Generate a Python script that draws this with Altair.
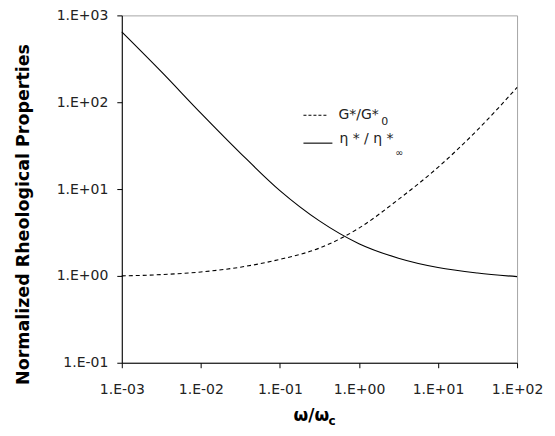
import altair as alt
import pandas as pd

# ---- data ----
w_vals = [0.001, 0.00316, 0.01, 0.0316, 0.1, 0.316, 1, 3.16, 10, 31.6, 100]
eta_ratio = [646, 225, 75, 26, 9.6, 4.3, 2.35, 1.6, 1.25, 1.08, 0.98]
g_ratio = [1.0, 1.035, 1.11, 1.26, 1.55, 2.09, 3.55, 7.6, 17.8, 48, 148]

x_ticks = [0.001, 0.01, 0.1, 1, 10, 100]
y_ticks = [0.1, 1, 10, 100, 1000]

df_eta = pd.DataFrame({"w": w_vals, "v": eta_ratio})
df_g = pd.DataFrame({"w": w_vals, "v": g_ratio})

label_expr = ("'1.E' + (round(log(datum.value)/LN10) < 0 ? '-' : '+') + "
              "(abs(round(log(datum.value)/LN10)) < 10 ? '0' : '') + "
              "abs(round(log(datum.value)/LN10))")

W, H = 396, 348
FONT = "DejaVu Sans"

x_enc = alt.X("w:Q", scale=alt.Scale(type="log", domain=[0.001, 100], nice=False),
              axis=alt.Axis(values=x_ticks, labelExpr=label_expr, title=None,
                            labelPadding=15, labelFlush=False,
                            labelFont=FONT, labelFontSize=14, labelColor="#222"))
y_enc = alt.Y("v:Q", scale=alt.Scale(type="log", domain=[0.1, 1000], nice=False),
              axis=alt.Axis(values=y_ticks, labelExpr=label_expr,
                            title="Normalized Rheological Properties",
                            titleFont=FONT, titleFontSize=17.5, titleFontWeight="bold",
                            titleColor="#000", titleAngle=270, titleX=-98, titleY=199,
                            titleAlign="center", titleBaseline="middle",
                            labelPadding=9, labelFlush=False,
                            labelFont=FONT, labelFontSize=14, labelColor="#222"))

line_eta = alt.Chart(df_eta).mark_line(color="black", strokeWidth=1.1,
                                       interpolate="monotone").encode(x=x_enc, y=y_enc)
line_g = alt.Chart(df_g).mark_line(color="black", strokeWidth=1.1, strokeDash=[4, 3],
                                   interpolate="monotone").encode(x=x_enc, y=y_enc)

one = alt.Data(values=[{"k": 1}])

leg_dash = alt.Chart(one).mark_rule(color="black", strokeWidth=1.1, strokeDash=[3, 2]).encode(
    x=alt.value(182), x2=alt.value(207), y=alt.value(100))
leg_solid = alt.Chart(one).mark_rule(color="black", strokeWidth=1.1).encode(
    x=alt.value(182), x2=alt.value(211), y=alt.value(128))

def txt(s, x, y, size=14, weight="normal", baseline="alphabetic", color="#222"):
    return alt.Chart(one).mark_text(text=s, align="left", baseline=baseline, font=FONT,
                                    fontSize=size, fontWeight=weight, color=color).encode(
        x=alt.value(x), y=alt.value(y))

leg_t1 = txt("G*/G*", 217, 104)
leg_t1s = txt("0", 260, 110, size=11)
leg_t2 = txt("η * / η *", 218, 128)
leg_t2s = txt("∞", 274, 138, size=10, baseline="middle")

xt = txt("ω/ω", 172, 406, size=17, weight="bold", color="#000")
xts = txt("c", 207, 410, size=12, weight="bold", color="#000")

chart = alt.layer(line_g, line_eta, leg_dash, leg_solid, leg_t1, leg_t1s, leg_t2, leg_t2s,
                  xt, xts).properties(
    width=W, height=H,
    background="white",
    autosize=alt.AutoSizeParams(type="none"),
    padding={"left": 114, "top": 7, "right": 30, "bottom": 72},
).configure_view(stroke="#a6a6a6", strokeWidth=1).configure_axis(
    grid=False, domainColor="black", domainWidth=1, tickColor="black", tickSize=5,
    labelFont=FONT, labelFontSize=14, labelColor="#222", titleFont=FONT,
)

chart.save("out.html", embed_options={"renderer": "svg", "actions": False})
